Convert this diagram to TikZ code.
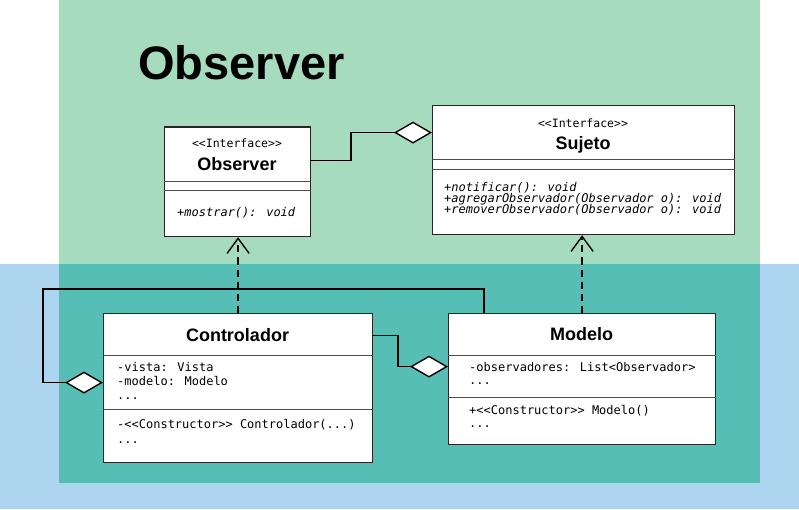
\documentclass[tikz,border=0pt]{standalone}
\usepackage{fontspec}
\setmainfont{Liberation Sans}
\newfontfamily\umlmono{DejaVu Sans Mono}
\usetikzlibrary{arrows.meta}
\definecolor{obsgreen}{RGB}{166,219,189}
\definecolor{mvcblue}{RGB}{174,213,240}
\definecolor{mixteal}{RGB}{86,190,180}
\tikzset{
    umlclass/.style={draw=black!85, fill=white, line width=1.2pt, inner sep=0pt, anchor=north west},
    umlname/.style={font=\bfseries\fontsize{18}{20}\selectfont, anchor=base, inner sep=0pt},
    umlstereo/.style={font=\umlmono\fontsize{11.5}{12}\selectfont, anchor=base, inner sep=0pt},
    umltext/.style={font=\umlmono\fontsize{12}{14}\selectfont, anchor=base west, inner sep=0pt},
    umlop/.style={font=\umlmono\itshape\fontsize{12}{14}\selectfont, anchor=base west, inner sep=0pt},
    umlsep/.style={draw=black!70, line width=1pt},
    aggreg/.style={draw, line width=1.6pt, -{Diamond[fill=white, length=38pt, width=22pt, line width=1.4pt]}},
    realiz/.style={draw, line width=1.4pt, dash pattern=on 7pt off 5pt, -{Straight Barb[length=15pt, width=22pt]}},
}
\begin{document}
\begin{tikzpicture}[x=1pt, y=-1pt]
\useasboundingbox (0,0) rectangle (799,510);
% zonas de fondo
\fill[mvcblue] (0,264) rectangle (799,509);
\fill[obsgreen] (59,0) rectangle (760,483);
\fill[mixteal] (59,264) rectangle (760,483);
\node[font=\bfseries\fontsize{47}{50}\selectfont, anchor=base, inner sep=0pt] (title) at (241.5,80) {Observer};

% clases
\node[umlclass, minimum width=146pt, minimum height=109.5pt] (obs) at (164,126.5) {};
\node[umlclass, minimum width=302pt, minimum height=129pt] (suj) at (432,105) {};
\node[umlclass, minimum width=269pt, minimum height=149.5pt] (ctrl) at (103,312.5) {};
\node[umlclass, minimum width=267pt, minimum height=131.5pt] (mod) at (448,312.5) {};
\foreach \cls/\off in {obs/55, obs/64.5, suj/55, suj/64.5, ctrl/42.5, ctrl/96.5, mod/42.5, mod/84.5}
    \draw[umlsep] ([yshift=-\off pt]\cls.north west) -- ([yshift=-\off pt]\cls.north east);

% Observer
\node[umlstereo] (obsstereo) at (237,147.5) {<<Interface>>};
\node[umlname] (obsname) at (237,170.5) {Observer};
\node[umlop] (obsop) at (177,217) {+mostrar(): void};

% Sujeto
\node[umlstereo] (sujstereo) at (583,127.5) {<<Interface>>};
\node[umlname] (sujname) at (583,149.3) {Sujeto};
\node[umlop] (sujopa) at (444,192) {+notificar(): void};
\node[umlop] (sujopb) at (444,203) {+agregarObservador(Observador o): void};
\node[umlop] (sujopc) at (444,213.5) {+removerObservador(Observador o): void};

% Controlador
\node[umlname] (ctrlname) at (237.5,341.7) {Controlador};
\node[umltext] (ctrlatta) at (117,371) {-vista: Vista};
\node[umltext] (ctrlattb) at (117,385) {-modelo: Modelo};
\node[umltext] (ctrlattc) at (117,399) {...};
\node[umltext] (ctrlopa) at (117,428) {-<<Constructor>> Controlador(...)};
\node[umltext] (ctrlopb) at (117,443) {...};

% Modelo
\node[umlname] (modname) at (581.5,340.5) {Modelo};
\node[umltext] (modatta) at (469,371) {-observadores: List<Observador>};
\node[umltext] (modattb) at (469,384) {...};
\node[umltext] (modopa) at (469,414) {+<<Constructor>> Modelo()};
\node[umltext] (modopb) at (469,427) {...};

% relaciones
\coordinate (loopcorner) at (43,289);
\draw[aggreg] ([yshift=21.25pt]obs.east) -- ++(40,0) |- ([yshift=37.5pt]suj.west);
\draw[aggreg] ([yshift=52.25pt]ctrl.east) -- ++(25,0) |- ([yshift=12.25pt]mod.west);
\draw[aggreg] ([xshift=36pt]mod.north west) |- (loopcorner) |- ([yshift=5.25pt]ctrl.west);
\draw[realiz] (ctrl.north) -- (ctrl.north |- obs.south);
\draw[realiz] (mod.north) -- (mod.north |- suj.south);
\end{tikzpicture}
\end{document}
